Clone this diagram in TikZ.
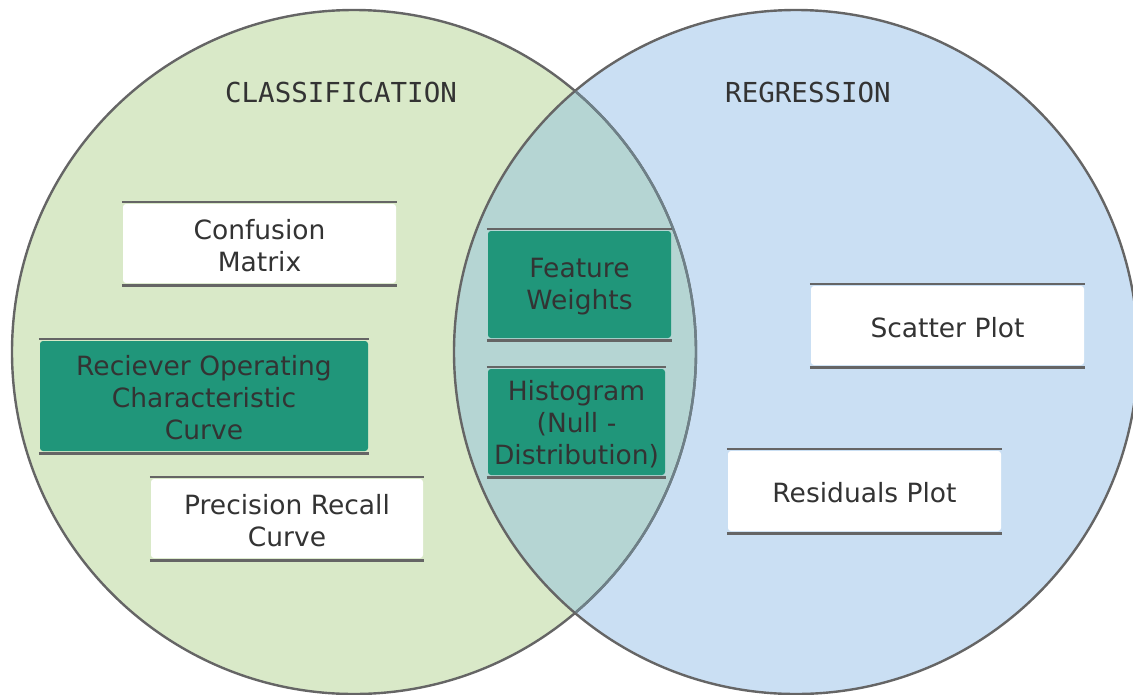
\documentclass[tikz,border=0pt]{standalone}
\usepackage{fontspec}
\newfontfamily\boxfont{DejaVu Sans}
\newfontfamily\titlefont{DejaVu Sans Mono}
\definecolor{cgreen}{HTML}{D9E9C8}
\definecolor{cblue}{HTML}{CADFF3}
\definecolor{cover}{HTML}{B5D5D3}
\definecolor{cline}{HTML}{656565}
\definecolor{clinelight}{HTML}{6E8088}
\definecolor{cteal}{HTML}{20967A}
\definecolor{ctext}{HTML}{333333}
\tikzset{
  vbox/.style={inner sep=0pt, rounded corners=3pt},
  vtext/.style={inner sep=0pt, align=center, text=ctext,
    font=\boxfont\fontsize{26.5}{32}\selectfont},
  barline/.style={draw=cline, line width=2.6pt},
  rim/.style={draw=cline, line width=2.4pt},
  title/.style={text=ctext, font=\titlefont\fontsize{27.5}{32}\selectfont}
}
\newcommand{\vennbox}[7]{%
  \node[vbox, fill=#6, minimum width={#4-#2-2}, minimum height={#5-#3-4}] (#1) at ({(#2+#4)/2},{(#3+#5)/2}) {};
  \node[vtext] (#1-t) at ([yshift=-2pt]#1.center) {#7};
  \draw[barline] ([xshift=-1pt,yshift=2pt]#1.north west) -- ([xshift=1pt,yshift=2pt]#1.north east);
  \draw[barline] ([xshift=-1pt,yshift=-2pt]#1.south west) -- ([xshift=1pt,yshift=-2pt]#1.south east);
}
\begin{document}
\begin{tikzpicture}[x=1pt,y=-1pt]
\useasboundingbox (0,0) rectangle (1133,694);
% circle fills
\fill[cgreen] (354,352) circle[radius=342pt];
\fill[cblue] (796,352) circle[radius=342pt];
\begin{scope}
  \clip (354,352) circle[radius=342pt];
  \fill[cover] (796,352) circle[radius=342pt];
\end{scope}
% rims
\draw[rim] (354,352) circle[radius=342pt];
\draw[rim] (796,352) circle[radius=342pt];
\begin{scope}
  \clip (796,352) circle[radius=341pt];
  \draw[rim, draw=clinelight] (354,352) circle[radius=342pt];
\end{scope}
% titles
\node[title] (cls) at (341,92) {CLASSIFICATION};
\node[title] (reg) at (808,92) {REGRESSION};
% boxes
\vennbox{cm}{122}{202}{397}{285}{white}{Confusion\\Matrix}
\vennbox{roc}{39}{339}{369}{453}{cteal}{Reciever Operating\\Characteristic\\Curve}
\vennbox{pr}{150}{477}{424}{560}{white}{Precision Recall\\Curve}
\vennbox{fw}{487}{229}{672}{340}{cteal}{Feature\\Weights}
\vennbox{hist}{487}{367}{666}{477}{cteal}{Histogram\\(Null -\\Distribution)}
\vennbox{sc}{810}{284}{1085}{367}{white}{Scatter Plot}
\vennbox{res}{727}{449}{1002}{533}{white}{Residuals Plot}
\end{tikzpicture}
\end{document}
